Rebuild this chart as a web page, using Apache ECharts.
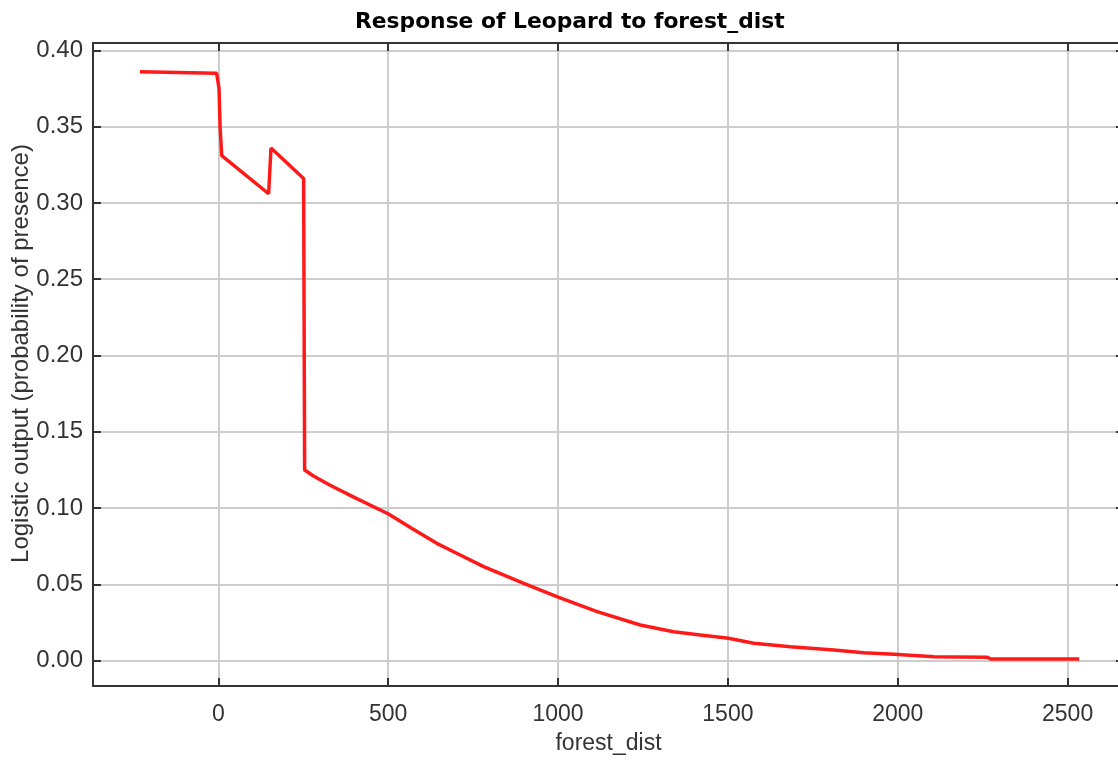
<!DOCTYPE html>
<html>
<head>
<meta charset="utf-8">
<script src="https://cdn.jsdelivr.net/npm/echarts@6/dist/echarts.min.js"></script>
<style>
html,body{margin:0;padding:0;background:#fff;}
#chart{width:1118px;height:763px;}
</style>
</head>
<body>
<div id="chart"></div>
<script>
const chartTitle = 'Response of Leopard to forest_dist';
const xAxisName = 'forest_dist';
const yAxisName = 'Logistic output (probability of presence)';
const forestDist = [-231, -5, 2, 5, 10, 148, 155, 251, 254, 280, 329, 400, 501, 570, 643, 700, 781, 899, 1002, 1115, 1242, 1340, 1419, 1502, 1576, 1684, 1812, 1900, 1989, 2107, 2264, 2274, 2534];
const logisticOutput = [0.386, 0.385, 0.375, 0.350, 0.331, 0.306, 0.336, 0.316, 0.125, 0.121, 0.115, 0.107, 0.0961, 0.0866, 0.0769, 0.0706, 0.0616, 0.0507, 0.0415, 0.0321, 0.0234, 0.0190, 0.0168, 0.0147, 0.0114, 0.0092, 0.0070, 0.0052, 0.0042, 0.0026, 0.0022, 0.0011, 0.0011];
const xRange = [-369, 2666];
const yRange = [-0.0166, 0.4048];

const points = forestDist.map((x, i) => [x, logisticOutput[i]]);
const frameColor = '#333';
const gridColor = '#cdcdcd';
const labelFont = 'Liberation Sans';

const tickInside = {show: true, inside: true, length: 8, lineStyle: {color: frameColor, width: 2}};
const frameLine = {show: true, onZero: false, lineStyle: {color: frameColor, width: 2}};

const chart = echarts.init(document.getElementById('chart'), null, {renderer: 'canvas'});
chart.setOption({
  animation: false,
  backgroundColor: '#fff',
  title: {
    text: chartTitle,
    left: 355, top: 11, padding: 0,
    textStyle: {fontFamily: 'DejaVu Sans', fontWeight: 'bold', fontSize: 21.8, color: '#000'}
  },
  grid: {left: 93, top: 43, right: -6, bottom: 77, containLabel: false, outerBoundsMode: 'none'},
  xAxis: [{
    type: 'value', min: xRange[0], max: xRange[1], splitNumber: 6,
    name: xAxisName, nameLocation: 'middle', nameGap: 46, nameMoveOverlap: false,
    nameTextStyle: {fontFamily: labelFont, fontSize: 23, color: '#333'},
    axisLine: frameLine, axisTick: tickInside,
    axisLabel: {showMinLabel: false, showMaxLabel: false, margin: 17, fontFamily: labelFont, fontSize: 23, color: '#333',
      formatter: v => String(Math.round(v))},
    splitLine: {show: true, lineStyle: {color: gridColor, width: 2}}
  }, {
    type: 'value', position: 'top', min: xRange[0], max: xRange[1], splitNumber: 6,
    axisLine: frameLine, axisTick: tickInside,
    axisLabel: {show: false}, splitLine: {show: false}
  }],
  yAxis: [{
    type: 'value', min: yRange[0], max: yRange[1], splitNumber: 8,
    name: yAxisName, nameLocation: 'middle', nameGap: 60, nameRotate: 90, nameMoveOverlap: false,
    nameTextStyle: {fontFamily: labelFont, fontSize: 24, color: '#333', padding: [0, 0, 0, 22]},
    axisLine: frameLine, axisTick: tickInside,
    axisLabel: {showMinLabel: false, showMaxLabel: false, margin: 10, fontFamily: labelFont, fontSize: 24, color: '#333',
      formatter: v => v.toFixed(2)},
    splitLine: {show: true, lineStyle: {color: gridColor, width: 2}}
  }, {
    type: 'value', position: 'right', min: yRange[0], max: yRange[1], splitNumber: 8,
    axisLine: frameLine, axisTick: tickInside,
    axisLabel: {show: false}, splitLine: {show: false}
  }],
  series: [{
    type: 'line', xAxisIndex: 0, yAxisIndex: 0,
    data: points, showSymbol: false, smooth: false,
    lineStyle: {color: '#ff1a1a', width: 3.5}
  }]
});
</script>
</body>
</html>
